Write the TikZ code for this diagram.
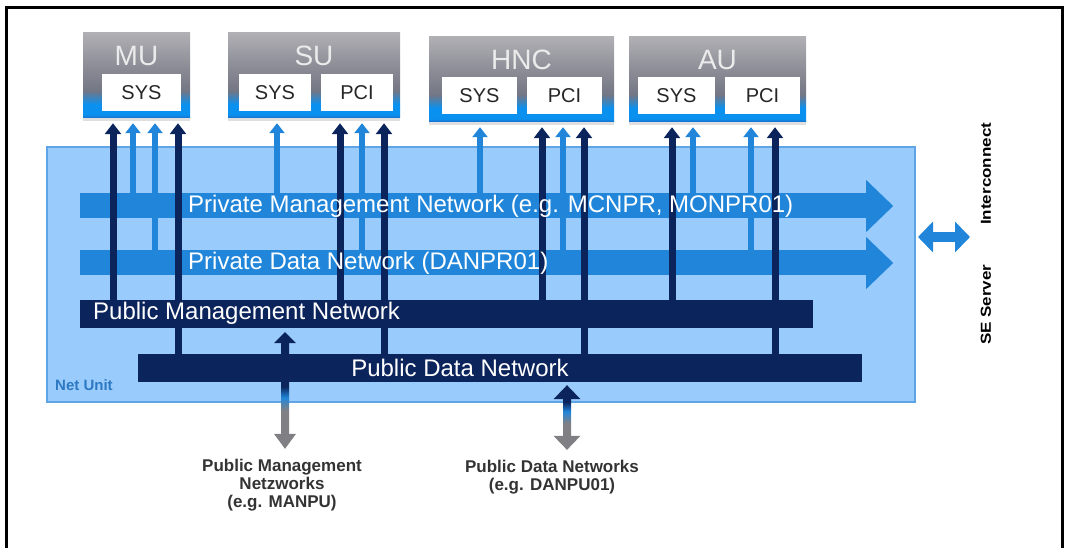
\documentclass[tikz,border=0pt]{standalone}
\usepackage{fontspec}
\setmainfont{Liberation Sans}
\usetikzlibrary{arrows.meta,calc,shadows}

\definecolor{navy}{RGB}{11,36,92}
\definecolor{midblue}{RGB}{33,134,218}
\definecolor{netfill}{RGB}{153,204,252}
\definecolor{netedge}{RGB}{95,165,230}
\definecolor{netblue}{RGB}{45,120,195}
\definecolor{pipegray}{RGB}{128,128,132}
\definecolor{unittop}{RGB}{175,175,180}
\definecolor{unitmid}{RGB}{140,140,150}
\definecolor{unitgray}{RGB}{115,118,132}
\definecolor{unitblue}{RGB}{10,145,240}
\definecolor{unitdeep}{RGB}{25,110,200}

\pgfdeclareverticalshading{unitshade}{100bp}{color(0bp)=(unitdeep); color(25bp)=(unitdeep); color(27bp)=(unitblue); color(33bp)=(unitblue); color(41bp)=(unitgray); color(55bp)=(unitmid); color(75bp)=(unittop); color(100bp)=(unittop)}
\pgfdeclareverticalshading{pipea}{100bp}{color(0bp)=(pipegray); color(38bp)=(pipegray); color(45bp)=(midblue); color(51bp)=(navy); color(100bp)=(navy)}
\pgfdeclareverticalshading{pipeb}{100bp}{color(0bp)=(pipegray); color(42bp)=(pipegray); color(58bp)=(midblue); color(71bp)=(navy); color(100bp)=(navy)}

\begin{document}
\begin{tikzpicture}[x=1pt,y=-1pt,
    unitbox/.style={shading=unitshade, minimum height=85pt, inner sep=0pt,
      drop shadow={shadow xshift=0pt, shadow yshift=-3pt, opacity=.25}},
    portbox/.style={fill=white, minimum height=37pt, inner sep=0pt,
      text=black!85, font=\fontsize{20}{22}\selectfont},
    unitlbl/.style={text=black!8, inner sep=0pt, font=\fontsize{28}{30}\selectfont},
    netlbl/.style={text=white, inner sep=0pt, font=\fontsize{24}{28}\selectfont},
    darkup/.style={draw=navy, line width=7pt, -{Triangle[width=16pt,length=11pt]}},
    lightup/.style={draw=midblue, line width=6pt, -{Triangle[width=15pt,length=10pt]}},
    extlbl/.style={text=black!80, align=center, inner sep=0pt,
      font=\bfseries\fontsize{17}{18}\selectfont}]
  \useasboundingbox (0,0) rectangle (1066,548);
  \draw[line width=3pt] (6,8) rectangle (1062,570);

  % net unit
  \node[draw=netedge, fill=netfill, line width=1.5pt, minimum width=868pt,
    minimum height=255pt, inner sep=0pt] (net) at (481,274.5) {};
  \node[anchor=west, inner sep=0pt, text=netblue,
    font=\bfseries\fontsize{15}{17}\selectfont] (netname) at (55,385) {Net Unit};

  % units
  \node[unitbox, minimum width=107pt] (mu) at (136.5,75.5) {};
  \node[unitbox, minimum width=172pt] (su) at (314,75.5) {};
  \node[unitbox, minimum width=185pt] (hnc) at (521.5,79.5) {};
  \node[unitbox, minimum width=177pt] (au) at (717.5,79.5) {};
  \node[unitlbl] (mulbl) at ([yshift=-23pt]mu.north) {MU};
  \node[unitlbl] (sulbl) at ([yshift=-23pt]su.north) {SU};
  \node[unitlbl] (hnclbl) at ([yshift=-23pt]hnc.north) {HNC};
  \node[unitlbl] (aulbl) at ([yshift=-23pt]au.north) {AU};
  \node[portbox, minimum width=79pt] (musys) at (141.5,92.5) {SYS};
  \node[portbox, minimum width=72pt] (susys) at (275,92.5) {SYS};
  \node[portbox, minimum width=72pt] (supci) at (357,92.5) {PCI};
  \node[portbox, minimum width=75pt] (hncsys) at (479.5,96) {SYS};
  \node[portbox, minimum width=75pt] (hncpci) at (564.5,96) {PCI};
  \node[portbox, minimum width=77pt] (ausys) at (676.5,96) {SYS};
  \node[portbox, minimum width=75pt] (aupci) at (762.5,96) {PCI};
  \coordinate (mutip) at ($(mu.south)+(0,5)$);
  \coordinate (sutip) at ($(su.south)+(0,5)$);
  \coordinate (hnctip) at ($(hnc.south)+(0,5)$);
  \coordinate (autip) at ($(au.south)+(0,5)$);

  % private networks
  \node[fill=midblue, minimum width=786pt, minimum height=25pt, inner sep=0pt] (privmgmt) at (473,206) {};
  \fill[midblue] ([yshift=26pt]privmgmt.east) -- ([xshift=27pt]privmgmt.east) -- ([yshift=-26pt]privmgmt.east) -- cycle;
  \node[fill=midblue, minimum width=786pt, minimum height=25pt, inner sep=0pt] (privdata) at (473,263) {};
  \fill[midblue] ([yshift=26pt]privdata.east) -- ([xshift=27pt]privdata.east) -- ([yshift=-26pt]privdata.east) -- cycle;

  \foreach \x/\bar/\tip in {133/privmgmt/mutip, 155/privdata/mutip, 277/privmgmt/sutip,
      362/privdata/sutip, 480/privmgmt/hnctip, 563/privdata/hnctip,
      693/privmgmt/autip, 751/privdata/autip}
    \draw[lightup] (\bar.north -| \x,0) -- (\tip -| \x,0);

  % public networks
  \node[fill=navy, minimum width=733pt, minimum height=28pt, inner sep=0pt] (pubmgmt) at (446.5,314) {};
  \node[fill=navy, minimum width=724pt, minimum height=28pt, inner sep=0pt] (pubdata) at (500,368) {};

  \foreach \x/\bar/\tip in {113/pubmgmt/mutip, 178/pubdata/mutip, 340/pubmgmt/sutip,
      384/pubdata/sutip, 542/pubmgmt/hnctip, 584/pubdata/hnctip,
      672/pubmgmt/autip, 775/pubdata/autip}
    \draw[darkup] (\bar.north -| \x,0) -- (\tip -| \x,0);

  \node[netlbl, anchor=west] (privmgmtlbl) at (188,206) {Private Management Network (e.g. MCNPR, MONPR01)};
  \node[netlbl, anchor=west] (privdatalbl) at (188,263) {Private Data Network (DANPR01)};
  \node[netlbl, anchor=west] (pubmgmtlbl) at (93,313) {Public Management Network};
  \node[netlbl] (pubdatalbl) at (460,368) {Public Data Network};

  % SE server interconnect
  \coordinate (sel) at (918,237);
  \coordinate (ser) at (970,237);
  \draw[midblue, line width=10pt, {Triangle[width=30pt,length=15pt]}-{Triangle[width=30pt,length=15pt]}] (sel) -- (ser);
  \node[rotate=90, anchor=west, inner sep=0pt, font=\bfseries\fontsize{17}{19}\selectfont] (interconn) at (986,225) {\scalebox{1}[0.85]{Interconnect}};
  \node[rotate=90, anchor=west, inner sep=0pt, font=\bfseries\fontsize{17}{19}\selectfont] (seserver) at (986,345) {\scalebox{1}[0.85]{SE Server}};

  % external networks
  \node[extlbl] (pmnlbl) at (282,485) {Public Management\\Netzworks\\(e.g. MANPU)};
  \node[extlbl] (pdnlbl) at (552,477) {Public Data Networks\\(e.g. DANPU01)};
  \coordinate (pmtop) at ($(pubmgmt.south -| 285,0)+(0,4)$);
  \coordinate (pmbot) at ($(pmnlbl.north -| pmtop)+(0,-10)$);
  \fill[navy] (pmtop) -- ++(11,11) -- ++(-22,0) -- cycle;
  \shade[shading=pipea] ($(pmtop)+(-4,11)$) rectangle ($(pmbot)+(4,-15)$);
  \fill[pipegray] (pmbot) -- ++(11,-15) -- ++(-22,0) -- cycle;
  \coordinate (pdtop) at ($(pubdata.south -| 567,0)+(0,3)$);
  \coordinate (pdbot) at ($(pdnlbl.north -| pdtop)+(0,-10)$);
  \fill[navy] (pdtop) -- ++(13.5,14) -- ++(-27,0) -- cycle;
  \shade[shading=pipeb] ($(pdtop)+(-4,14)$) rectangle ($(pdbot)+(4,-14)$);
  \fill[pipegray] (pdbot) -- ++(13.5,-14) -- ++(-27,0) -- cycle;
\end{tikzpicture}
\end{document}
